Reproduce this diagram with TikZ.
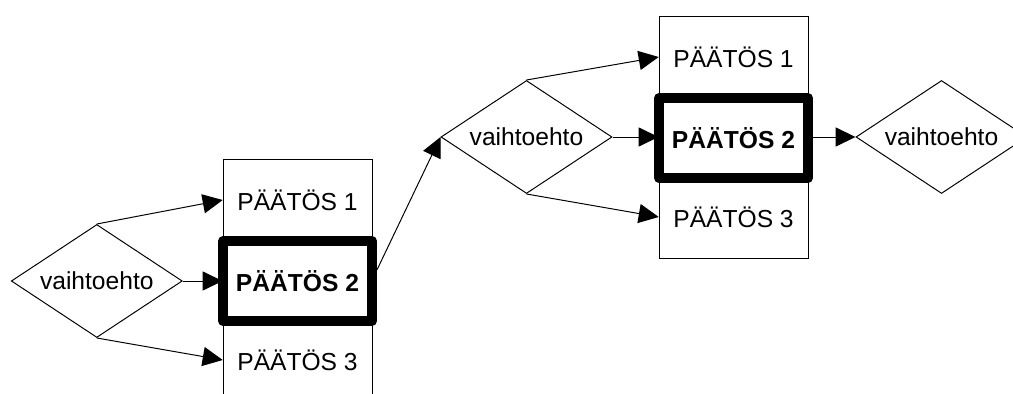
\documentclass[tikz,border=0pt]{standalone}
\usepackage{fontspec}
\setmainfont{Liberation Sans}
\usetikzlibrary{shapes.geometric, arrows.meta}

\begin{document}
\begin{tikzpicture}[
        choicebox/.style={draw, line width=0.7pt, diamond, aspect=1.513,
            inner sep=0pt, minimum width=4.275cm, minimum height=2.825cm,
            font=\fontsize{17.5}{20}\selectfont},
        decbox/.style={draw, line width=0.7pt, minimum width=3.725cm,
            minimum height=6.05cm, inner sep=0pt},
        dectxt/.style={minimum width=3.725cm, inner sep=0pt,
            font=\fontsize{17.5}{20}\selectfont},
        chosen/.style={draw, line width=7pt, line join=round,
            minimum width=3.725cm, minimum height=2cm, inner sep=0pt,
            font=\fontsize{17.5}{20}\selectfont\bfseries},
        arr/.style={-{Triangle[length=0.5cm, width=0.48cm]}, line width=0.7pt}
    ]

    \useasboundingbox (0,0) rectangle (25.325,-9.85);
    \clip (0,0) rectangle (25.325,-9.85);

    % first step
    \node[choicebox] (d1) at (2.42,-7.025) {vaihtoehto};
    \node[decbox] (r1) at (7.4375,-7.0) {};
    \node[dectxt] (t11) at (7.4375,-5.0) {PÄÄTÖS 1};
    \node[chosen] (b1) at (7.4375,-7.025) {PÄÄTÖS 2};
    \node[dectxt] (t13) at (7.4375,-9.0) {PÄÄTÖS 3};

    \draw[arr] (d1.north) -- (t11.west);
    \draw[arr] (d1.east) -- (d1.east -| r1.west);
    \draw[arr] (d1.south) -- (t13.west);

    % second step
    \node[choicebox] (d2) at (13.1625,-3.425) {vaihtoehto};
    \node[decbox] (r2) at (18.3375,-3.425) {};
    \node[dectxt] (t21) at (18.3375,-1.425) {PÄÄTÖS 1};
    \node[chosen] (b2) at (18.3375,-3.45) {PÄÄTÖS 2};
    \node[dectxt] (t23) at (18.3375,-5.425) {PÄÄTÖS 3};

    \draw[arr] ([yshift=0.275cm]b1.east) -- (d2.west);
    \draw[arr] (d2.north) -- (t21.west);
    \draw[arr] (d2.east) -- (d2.east -| r2.west);
    \draw[arr] (d2.south) -- (t23.west);

    % next choice
    \node[choicebox] (d3) at (23.5375,-3.425) {vaihtoehto};
    \draw[arr] (b2.east |- d3.west) -- (d3.west);

\end{tikzpicture}
\end{document}
